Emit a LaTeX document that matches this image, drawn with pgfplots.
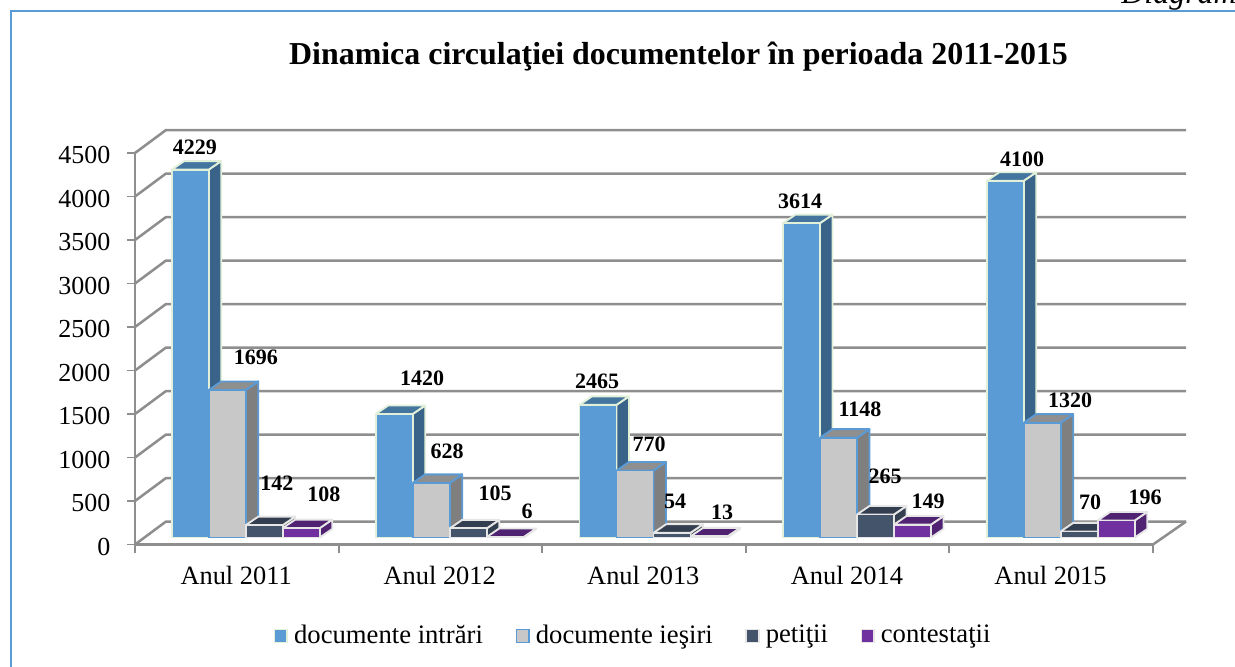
\documentclass[border=0pt]{standalone}
\usepackage{pgfplots}
\pgfplotsset{compat=1.18}
\usepackage{fontspec}
\setmainfont{Liberation Serif}
\definecolor{gridc}{HTML}{8E8E8E}
\definecolor{frameb}{HTML}{5B9BD5}
\definecolor{bluef}{HTML}{5B9BD5}
\definecolor{blues}{HTML}{3A6389}
\definecolor{bluet}{HTML}{44759F}
\definecolor{blueb}{HTML}{E2F0D9}
\definecolor{greyf}{HTML}{C8C8C8}
\definecolor{greys}{HTML}{7F7F7F}
\definecolor{greyt}{HTML}{8F8F8F}
\definecolor{petf}{HTML}{44546A}
\definecolor{pets}{HTML}{333F50}
\definecolor{lightb}{HTML}{E7E6E6}
\definecolor{conf}{HTML}{7030A0}
\definecolor{cons}{HTML}{4F2272}
\newcommand{\gridat}[1]{%
  \pgfmathsetmacro{\yb}{#1+264}%
  \addplot[forget plot,gridc,line width=1.9pt,mark=none,line join=round] coordinates {(135,#1) (166,\yb) (1186,\yb)};%
}
% x of front-left corner, value, front, side, top, border colours
\newcommand{\threeD}[6]{%
  \pgfmathsetmacro{\xa}{#1+37}%
  \pgfmathsetmacro{\xb}{#1+12.5}%
  \pgfmathsetmacro{\xc}{#1+49.5}%
  \pgfmathsetmacro{\ya}{80+#2}%
  \pgfmathsetmacro{\yb}{178+#2}%
  \addplot[forget plot,mark=none,fill=#4,draw=#6,line width=1.4pt,line join=round] coordinates {(\xa,80) (\xc,178) (\xc,\yb) (\xa,\ya) (\xa,80)};%
  \addplot[forget plot,mark=none,fill=#5,draw=#6,line width=1.4pt,line join=round] coordinates {(#1,\ya) (\xa,\ya) (\xc,\yb) (\xb,\yb) (#1,\ya)};%
  \addplot[forget plot,mark=none,fill=#3,draw=#6,line width=1.4pt,line join=round] coordinates {(#1,80) (\xa,80) (\xa,\ya) (#1,\ya) (#1,80)};%
}
\newcommand{\group}[5]{%
  \pgfmathsetmacro{\xg}{#1}\edef\xgA{\xg}%
  \pgfmathsetmacro{\xg}{#1+37}\edef\xgB{\xg}%
  \pgfmathsetmacro{\xg}{#1+74}\edef\xgC{\xg}%
  \pgfmathsetmacro{\xg}{#1+111}\edef\xgD{\xg}%
  \threeD{\xgA}{#2}{bluef}{blues}{bluet}{blueb}%
  \threeD{\xgB}{#3}{greyf}{greys}{greyt}{bluef}%
  \threeD{\xgC}{#4}{petf}{pets}{pets}{lightb}%
  \threeD{\xgD}{#5}{conf}{cons}{cons}{lightb}%
}
\newcommand{\lab}[3]{\node[font=\fontsize{16.5pt}{18pt}\selectfont\bfseries,inner sep=0pt] at (axis cs:#1,{(544.5-#2)/0.087}) {#3};}
\begin{document}
\begin{tikzpicture}
\path[use as bounding box,clip] (-101.25pt,-91.875pt) rectangle (825pt,408.375pt);
\begin{axis}[
  scale only axis,
  width=763.5pt,height=293.625pt,
  xmin=135,xmax=1153,ymin=0,ymax=4500,
  clip=false,
  axis x line*=bottom,
  axis y line*=left,
  axis line style={gridc,line width=1.9pt},
  xtick={236.8,440.4,644,847.6,1051.2},
  xticklabels={Anul 2011,Anul 2012,Anul 2013,Anul 2014,Anul 2015},
  minor xtick={135,338.6,542.2,745.8,949.4,1153},
  ytick={0,500,1000,1500,2000,2500,3000,3500,4000,4500},
  major x tick style={draw=none},
  minor tick length=6pt,
  major tick length=6pt,
  tick style={gridc,line width=1.4pt},
  tick align=outside,
  x tick label style={font=\fontsize{19.8pt}{22pt}\selectfont,yshift=-7pt,xshift=-0.5pt},
  y tick label style={font=\fontsize{19.5pt}{22pt}\selectfont,xshift=-9pt,yshift=-1.5pt},
  /pgf/number format/assume math mode=true,
  /pgf/number format/1000 sep={},
  legend columns=4,
  legend style={draw=none,fill=none,at={(axis cs:633.5,-1040)},anchor=center,font=\fontsize{20pt}{22pt}\selectfont,/tikz/every even column/.append style={column sep=22.5pt}},
  legend image code/.code={\draw[#1] (0pt,-5.5pt) rectangle (9.5pt,4pt); \path (12pt,0pt);},
]
\gridat{500}\gridat{1000}\gridat{1500}\gridat{2000}\gridat{2500}
\gridat{3000}\gridat{3500}\gridat{4000}\gridat{4500}\gridat{0}
\addplot[forget plot,gridc,line width=1.9pt,mark=none] coordinates {(1153,0) (1186,264)};
\group{171.7}{4229}{1696}{142}{108}
\group{375.7}{1420}{628}{105}{6}
\group{579.5}{1525}{770}{54}{13}
\group{783}{3614}{1148}{265}{149}
\group{986.7}{4100}{1320}{70}{196}
\lab{195}{147}{4229}\lab{256}{357}{1696}\lab{277}{483}{142}\lab{324}{494}{108}
\lab{422}{378}{1420}\lab{447}{451}{628}\lab{495}{493}{105}\lab{527}{511}{6}
\lab{597}{381}{2465}\lab{649}{444}{770}\lab{675}{501}{54}\lab{722}{512}{13}
\lab{800}{201}{3614}\lab{860}{409}{1148}\lab{885}{476}{265}\lab{928}{501}{149}
\lab{1022}{159}{4100}\lab{1070}{400}{1320}\lab{1090}{502}{70}\lab{1145}{497}{196}
\addlegendimage{fill=bluef,draw=blueb,line width=1.2pt}\addlegendentry{documente intrări}
\addlegendimage{fill=greyf,draw=bluef,line width=1.2pt}\addlegendentry{documente ieşiri}
\addlegendimage{fill=petf,draw=lightb,line width=1.2pt}\addlegendentry{petiţii}
\addlegendimage{fill=conf,draw=lightb,line width=1.2pt}\addlegendentry{contestaţii}
\node[font=\fontsize{23.94pt}{26pt}\selectfont\bfseries,inner sep=0pt] at (axis cs:678.5,{(544.5-57)/0.087}) {Dinamica circulaţiei documentelor în perioada 2011-2015};
\node[font=\fontsize{24pt}{26pt}\selectfont\itshape,anchor=base west,inner sep=0pt] at (axis cs:1121,{(544.5-3.5)/0.087}) {Diagram};
\draw[frameb,line width=1.6pt] (axis cs:11,{(544.5-670)/0.087}) -- (axis cs:11,{(544.5-11)/0.087}) -- (axis cs:1240,{(544.5-11)/0.087});
\end{axis}
\end{tikzpicture}
\end{document}
